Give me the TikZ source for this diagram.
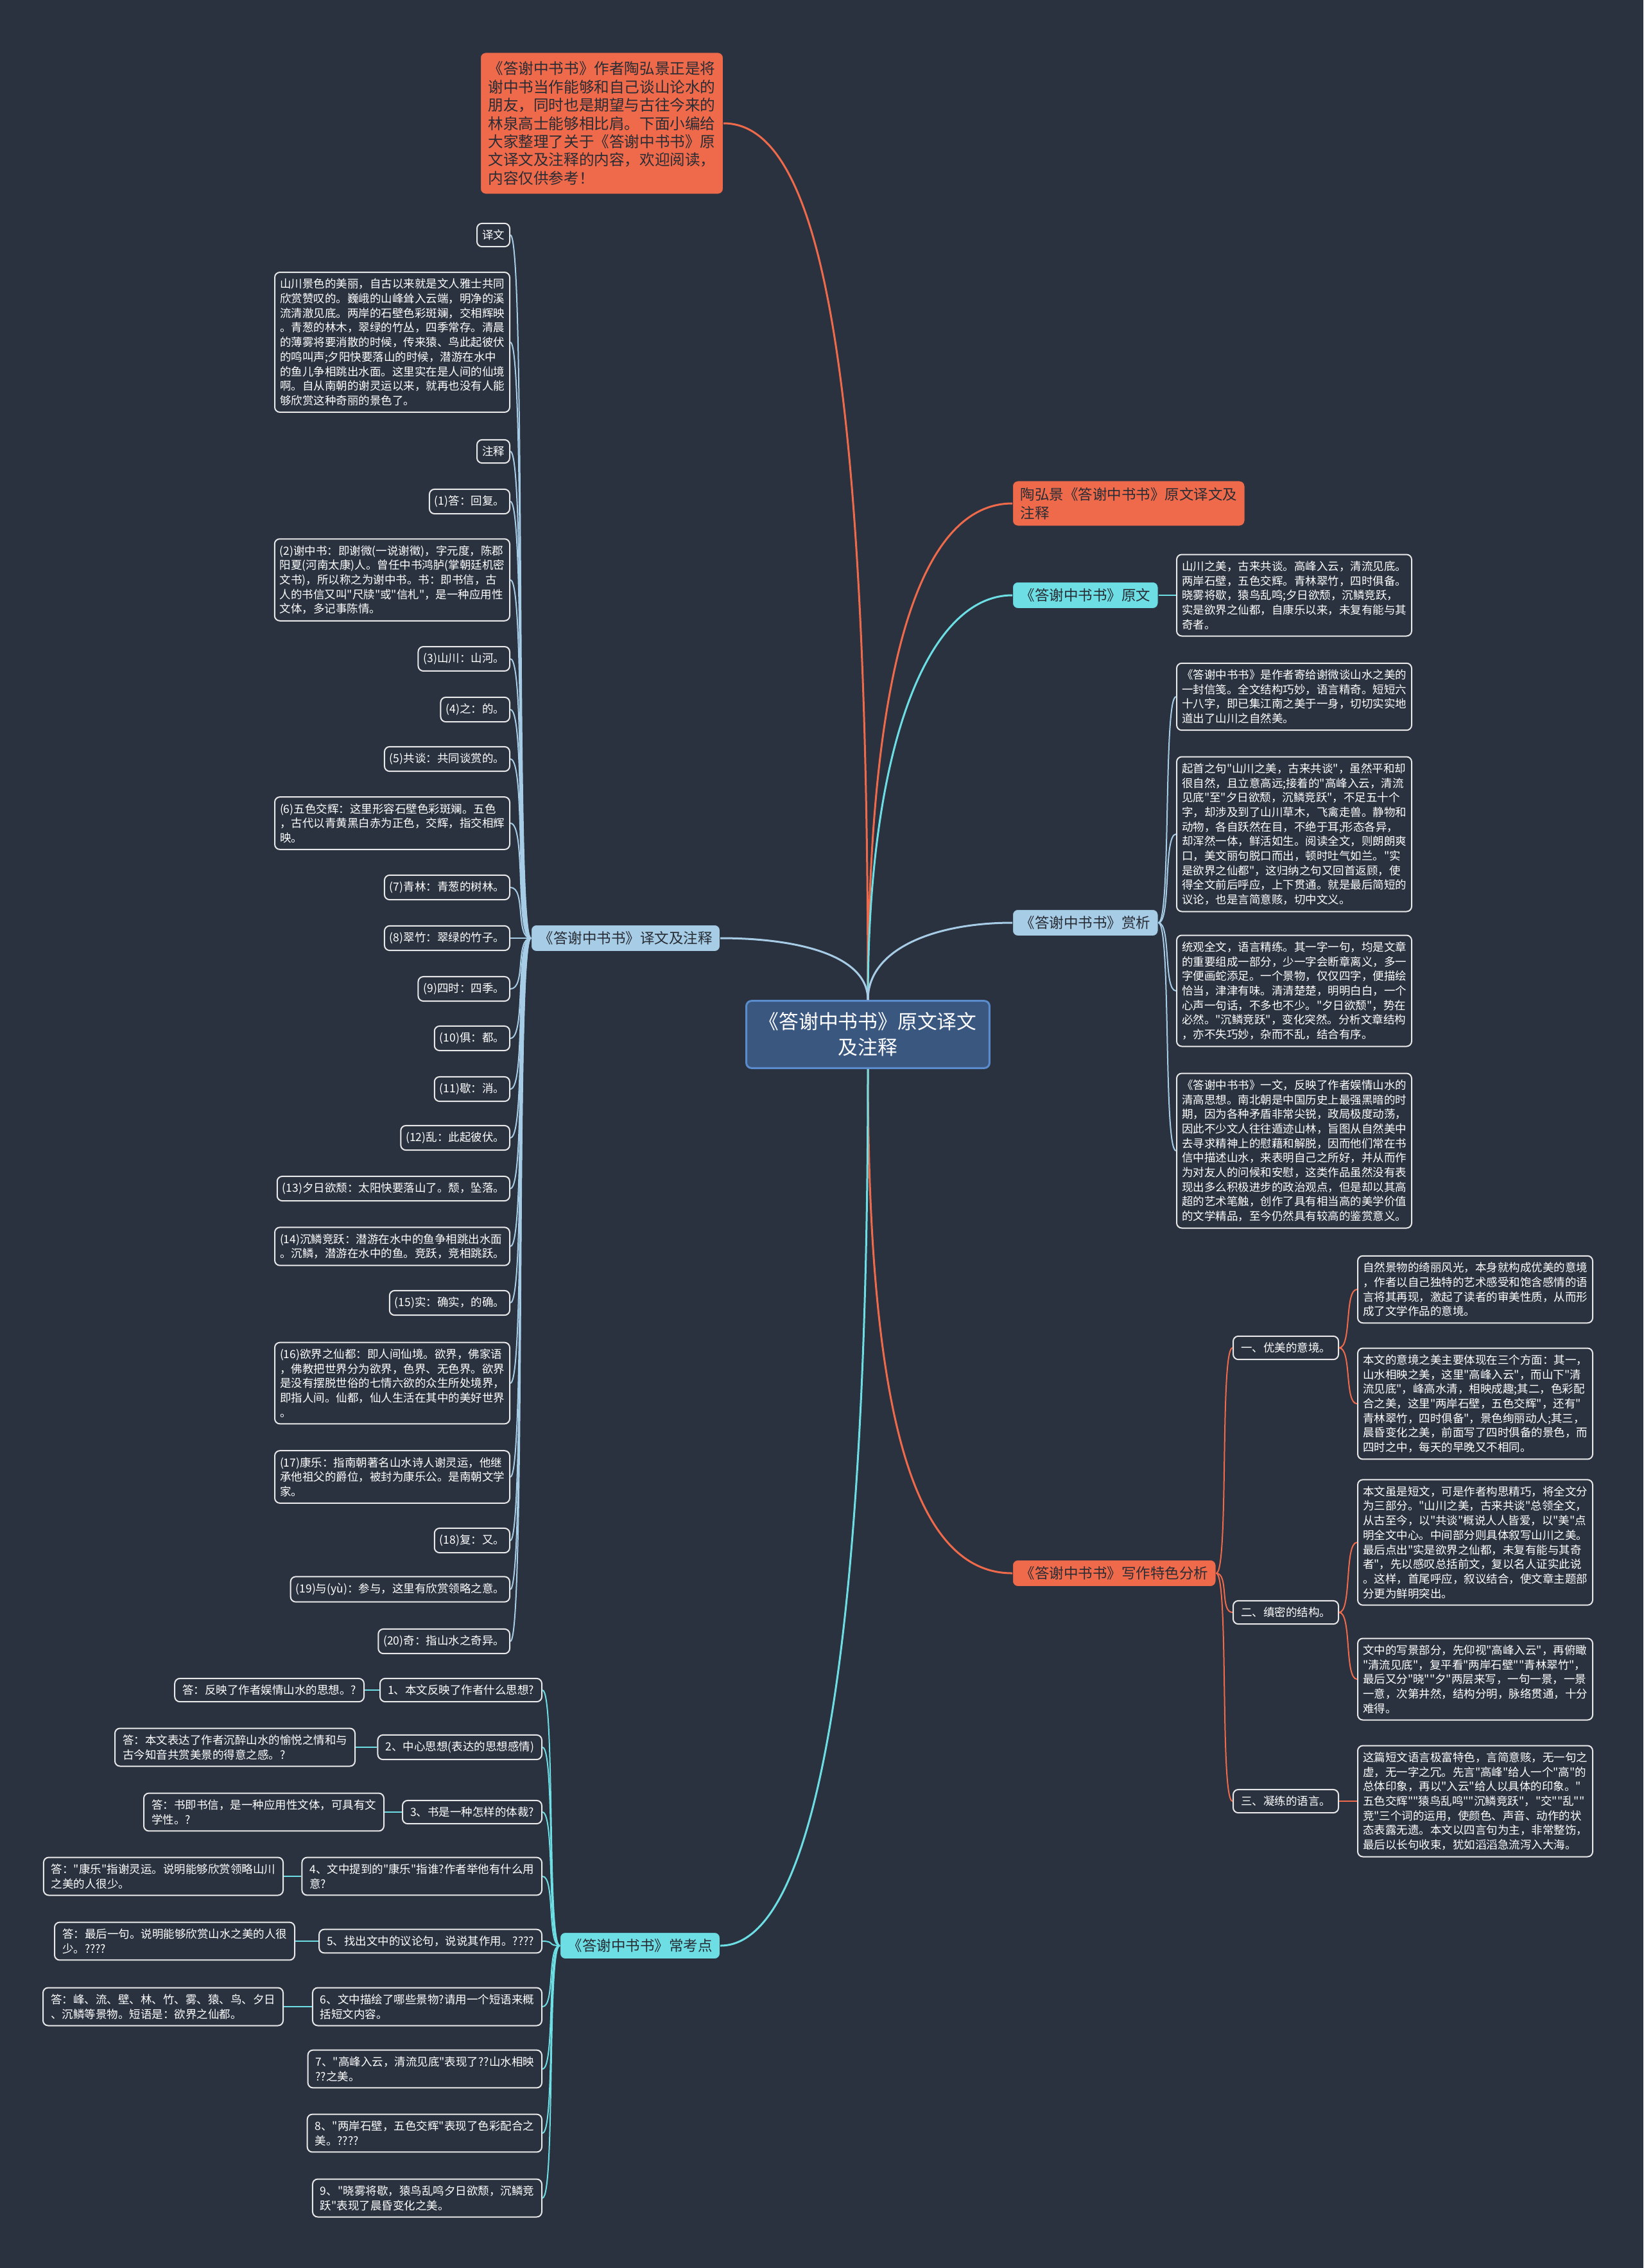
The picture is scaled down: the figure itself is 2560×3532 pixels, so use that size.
\documentclass[tikz,border=0pt]{standalone}
\usepackage{fontspec}
\setmainfont{Noto Sans CJK SC}[Ligatures=TeXOff]
\definecolor{bg}{RGB}{42,50,64}
\definecolor{orng}{RGB}{239,106,75}
\definecolor{cyn}{RGB}{108,222,228}
\definecolor{lblu}{RGB}{167,204,230}
\definecolor{cfill}{RGB}{58,87,128}
\definecolor{cbord}{RGB}{90,140,205}
\definecolor{lbord}{RGB}{232,232,232}
\definecolor{dtxt}{RGB}{40,44,52}
\newcommand\fsm{\fontsize{8.75pt}{11.35pt}\selectfont}
\newcommand\fmd{\fontsize{11.25pt}{14.6pt}\selectfont}
\newcommand\fin{\fontsize{11.8pt}{14.2pt}\selectfont}
\newcommand\flg{\fontsize{15.4pt}{20pt}\selectfont}
\begin{document}
\begin{tikzpicture}[x=0.5pt,y=-0.5pt,
  leaf/.style={draw=lbord, line width=1pt, rounded corners=4pt, fill=bg, text=white, font=\fsm, align=left, inner xsep=4pt, inner ysep=5pt},
  subl/.style={leaf, inner xsep=6pt},
  lbl/.style={rounded corners=4pt, font=\fmd, text=dtxt, align=left, inner xsep=6pt, inner ysep=5pt, draw=bg, line width=0.5pt},
  olbl/.style={lbl, fill=orng},
  clbl/.style={lbl, fill=cyn},
  blbl/.style={lbl, fill=lblu},
  oline/.style={draw=orng, line width=1.5pt},
  cline/.style={draw=cyn, line width=1.5pt},
  bline/.style={draw=lblu, line width=1.5pt},
  osub/.style={draw=orng, line width=1pt},
  csub/.style={draw=cyn, line width=1pt},
  bsub/.style={draw=lblu, line width=1pt}]
\fill[bg] (0,0) rectangle (2560,3532);
\useasboundingbox (0,0) rectangle (2560,3532);

% center
\node[fill=cfill, draw=cbord, line width=1.5pt, rounded corners=4pt, text=white, font=\flg, align=center, inner xsep=10pt, inner ysep=9pt] (c) at (1352,1611) {《答谢中书书》原文译文\\及注释};

% intro
\node[olbl, font=\fin, anchor=east, inner xsep=6pt, inner ysep=7pt] (intro) at (1127,192) {《答谢中书书》作者陶弘景正是将\\谢中书当作能够和自己谈山论水的\\朋友，同时也是期望与古往今来的\\林泉高士能够相比肩。下面小编给\\大家整理了关于《答谢中书书》原\\文译文及注释的内容，欢迎阅读，\\内容仅供参考！};

% right branches
\node[olbl, anchor=west] (tao) at (1577,784) {陶弘景《答谢中书书》原文译文及\\注释};
\node[clbl, anchor=west] (yw) at (1577,927) {《答谢中书书》原文};
\node[blbl, anchor=west] (sx) at (1577,1437) {《答谢中书书》赏析};
\node[olbl, anchor=west] (xz) at (1577,2450) {《答谢中书书》写作特色分析};
\node[blbl, anchor=east] (yz) at (1122,1461) {《答谢中书书》译文及注释};
\node[clbl, anchor=east] (ck) at (1122,3030) {《答谢中书书》常考点};

\draw[oline] (c.north) .. controls +(0,-1000) and +(150,0) .. (intro.east);
\draw[oline] (c.north) .. controls +(0,-500) and +(-150,0) .. (tao.west);
\draw[cline] (c.north) .. controls +(0,-400) and +(-130,0) .. (yw.west);
\draw[bline] (c.north) .. controls +(0,-80) and +(-120,0) .. (sx.west);
\draw[bline] (c.north) .. controls +(0,-70) and +(120,0) .. (yz.east);
\draw[oline] (c.south) .. controls +(0,550) and +(-150,0) .. (xz.west);
\draw[cline] (c.south) .. controls +(0,900) and +(150,0) .. (ck.east);

% 原文
\node[leaf, anchor=west] (ywt) at (1832,927) {山川之美，古来共谈。高峰入云，清流见底。\\两岸石壁，五色交辉。青林翠竹，四时俱备。\\晓雾将歇，猿鸟乱鸣;夕日欲颓，沉鳞竞跃，\\实是欲界之仙都，自康乐以来，未复有能与其\\奇者。};
\draw[csub] (yw.east) -- (ywt.west);

% 赏析
\node[leaf, anchor=west] (sx1) at (1832,1085) {《答谢中书书》是作者寄给谢微谈山水之美的\\一封信笺。全文结构巧妙，语言精奇。短短六\\十八字，即已集江南之美于一身，切切实实地\\道出了山川之自然美。};
\node[leaf, anchor=west] (sx2) at (1832,1299) {起首之句"山川之美，古来共谈"，虽然平和却\\很自然，且立意高远;接着的"高峰入云，清流\\见底"至"夕日欲颓，沉鳞竞跃"，不足五十个\\字，却涉及到了山川草木，飞禽走兽。静物和\\动物，各自跃然在目，不绝于耳;形态各异，\\却浑然一体，鲜活如生。阅读全文，则朗朗爽\\口，美文丽句脱口而出，顿时吐气如兰。"实\\是欲界之仙都"，这归纳之句又回首返顾，使\\得全文前后呼应，上下贯通。就是最后简短的\\议论，也是言简意赅，切中文义。};
\node[leaf, anchor=west] (sx3) at (1832,1543) {统观全文，语言精练。其一字一句，均是文章\\的重要组成一部分，少一字会断章离义，多一\\字便画蛇添足。一个景物，仅仅四字，便描绘\\恰当，津津有味。清清楚楚，明明白白，一个\\心声一句话，不多也不少。"夕日欲颓"，势在\\必然。"沉鳞竞跃"，变化突然。分析文章结构\\，亦不失巧妙，杂而不乱，结合有序。};
\node[leaf, anchor=west] (sx4) at (1832,1792) {《答谢中书书》一文，反映了作者娱情山水的\\清高思想。南北朝是中国历史上最强黑暗的时\\期，因为各种矛盾非常尖锐，政局极度动荡，\\因此不少文人往往遁迹山林，旨图从自然美中\\去寻求精神上的慰藉和解脱，因而他们常在书\\信中描述山水，来表明自己之所好，并从而作\\为对友人的问候和安慰，这类作品虽然没有表\\现出多么积极进步的政治观点，但是却以其高\\超的艺术笔触，创作了具有相当高的美学价值\\的文学精品，至今仍然具有较高的鉴赏意义。};
\foreach \n in {sx1,sx2,sx3,sx4}
  \draw[bsub] (sx.east) .. controls +(20,0) and +(-20,0) .. (\n.west);

% 写作特色
\node[subl, anchor=west] (s1) at (1920,2099) {一、优美的意境。};
\node[subl, anchor=west] (s2) at (1920,2511) {二、缜密的结构。};
\node[subl, anchor=west] (s3) at (1920,2805) {三、凝练的语言。};
\foreach \n in {s1,s2,s3}
  \draw[osub] (xz.east) .. controls +(20,0) and +(-20,0) .. (\n.west);
\node[leaf, anchor=west] (t1) at (2114,2008) {自然景物的绮丽风光，本身就构成优美的意境\\，作者以自己独特的艺术感受和饱含感情的语\\言将其再现，激起了读者的审美性质，从而形\\成了文学作品的意境。};
\node[leaf, anchor=west] (t2) at (2114,2186) {本文的意境之美主要体现在三个方面：其一，\\山水相映之美，这里"高峰入云"，而山下"清\\流见底"，峰高水清，相映成趣;其二，色彩配\\合之美，这里"两岸石壁，五色交辉"，还有"\\青林翠竹，四时俱备"，景色绚丽动人;其三，\\晨昏变化之美，前面写了四时俱备的景色，而\\四时之中，每天的早晚又不相同。};
\node[leaf, anchor=west] (t3) at (2114,2402) {本文虽是短文，可是作者构思精巧，将全文分\\为三部分。"山川之美，古来共谈"总领全文，\\从古至今，以"共谈"概说人人皆爱，以"美"点\\明全文中心。中间部分则具体叙写山川之美。\\最后点出"实是欲界之仙都，未复有能与其奇\\者"，先以感叹总括前文，复以名人证实此说\\。这样，首尾呼应，叙议结合，使文章主题部\\分更为鲜明突出。};
\node[leaf, anchor=west] (t4) at (2114,2615) {文中的写景部分，先仰视"高峰入云"，再俯瞰\\"清流见底"，复平看"两岸石壁""青林翠竹"，\\最后又分"晓""夕"两层来写，一句一景，一景\\一意，次第井然，结构分明，脉络贯通，十分\\难得。};
\node[leaf, anchor=west] (t5) at (2114,2805) {这篇短文语言极富特色，言简意赅，无一句之\\虚，无一字之冗。先言"高峰"给人一个"高"的\\总体印象，再以"入云"给人以具体的印象。"\\五色交辉""猿鸟乱鸣""沉鳞竞跃"，"交""乱""\\竞"三个词的运用，使颜色、声音、动作的状\\态表露无遗。本文以四言句为主，非常整饬，\\最后以长句收束，犹如滔滔急流泻入大海。};
\draw[osub] (s1.east) .. controls +(20,0) and +(-20,0) .. (t1.west);
\draw[osub] (s1.east) .. controls +(20,0) and +(-20,0) .. (t2.west);
\draw[osub] (s2.east) .. controls +(20,0) and +(-20,0) .. (t3.west);
\draw[osub] (s2.east) .. controls +(20,0) and +(-20,0) .. (t4.west);
\draw[osub] (s3.east) -- (t5.west);

% 译文及注释
\node[leaf, anchor=east] (l0) at (795,366) {译文};
\node[leaf, anchor=east] (l1) at (795,533) {山川景色的美丽，自古以来就是文人雅士共同\\欣赏赞叹的。巍峨的山峰耸入云端，明净的溪\\流清澈见底。两岸的石壁色彩斑斓，交相辉映\\。青葱的林木，翠绿的竹丛，四季常存。清晨\\的薄雾将要消散的时候，传来猿、鸟此起彼伏\\的鸣叫声;夕阳快要落山的时候，潜游在水中\\的鱼儿争相跳出水面。这里实在是人间的仙境\\啊。自从南朝的谢灵运以来，就再也没有人能\\够欣赏这种奇丽的景色了。};
\node[leaf, anchor=east] (l2) at (795,703) {注释};
\node[leaf, anchor=east] (n1) at (795,781) {(1)答：回复。};
\node[leaf, anchor=east] (n2) at (795,903) {(2)谢中书：即谢微(一说谢徵)，字元度，陈郡\\阳夏(河南太康)人。曾任中书鸿胪(掌朝廷机密\\文书)，所以称之为谢中书。书：即书信，古\\人的书信又叫"尺牍"或"信札"，是一种应用性\\文体，多记事陈情。};
\node[leaf, anchor=east] (n3) at (795,1026) {(3)山川：山河。};
\node[leaf, anchor=east] (n4) at (795,1105) {(4)之：的。};
\node[leaf, anchor=east] (n5) at (795,1182) {(5)共谈：共同谈赏的。};
\node[leaf, anchor=east] (n6) at (795,1282) {(6)五色交辉：这里形容石壁色彩斑斓。五色\\，古代以青黄黑白赤为正色，交辉，指交相辉\\映。};
\node[leaf, anchor=east] (n7) at (795,1382) {(7)青林：青葱的树林。};
\node[leaf, anchor=east] (n8) at (795,1461) {(8)翠竹：翠绿的竹子。};
\node[leaf, anchor=east] (n9) at (795,1540) {(9)四时：四季。};
\node[leaf, anchor=east] (n10) at (795,1617) {(10)俱：都。};
\node[leaf, anchor=east] (n11) at (795,1696) {(11)歇：消。};
\node[leaf, anchor=east] (n12) at (795,1772) {(12)乱：此起彼伏。};
\node[leaf, anchor=east] (n13) at (795,1851) {(13)夕日欲颓：太阳快要落山了。颓，坠落。};
\node[leaf, anchor=east] (n14) at (795,1941) {(14)沉鳞竞跃：潜游在水中的鱼争相跳出水面\\。沉鳞，潜游在水中的鱼。竞跃，竞相跳跃。};
\node[leaf, anchor=east] (n15) at (795,2029) {(15)实：确实，的确。};
\node[leaf, anchor=east] (n16) at (795,2154) {(16)欲界之仙都：即人间仙境。欲界，佛家语\\，佛教把世界分为欲界，色界、无色界。欲界\\是没有摆脱世俗的七情六欲的众生所处境界，\\即指人间。仙都，仙人生活在其中的美好世界\\。};
\node[leaf, anchor=east] (n17) at (795,2300) {(17)康乐：指南朝著名山水诗人谢灵运，他继\\承他祖父的爵位，被封为康乐公。是南朝文学\\家。};
\node[leaf, anchor=east] (n18) at (795,2399) {(18)复：又。};
\node[leaf, anchor=east] (n19) at (795,2475) {(19)与(yù)：参与，这里有欣赏领略之意。};
\node[leaf, anchor=east] (n20) at (795,2556) {(20)奇：指山水之奇异。};
\foreach \n in {l0,l1,l2,n1,n2,n3,n4,n5,n6,n7,n8,n9,n10,n11,n12,n13,n14,n15,n16,n17,n18,n19,n20}
  \draw[bsub] (yz.west) .. controls +(-25,0) and +(25,0) .. (\n.east);

% 常考点
\node[leaf, anchor=east, inner xsep=6pt] (q1) at (845,2632) {1、本文反映了作者什么思想?};
\node[leaf, anchor=east, inner xsep=6pt] (q2) at (845,2721) {2、中心思想(表达的思想感情)};
\node[leaf, anchor=east, inner xsep=6pt] (q3) at (845,2822) {3、书是一种怎样的体裁?};
\node[leaf, anchor=east, inner xsep=6pt] (q4) at (845,2922) {4、文中提到的"康乐"指谁?作者举他有什么用\\意?};
\node[leaf, anchor=east, inner xsep=6pt] (q5) at (845,3023) {5、找出文中的议论句，说说其作用。????};
\node[leaf, anchor=east, inner xsep=6pt] (q6) at (845,3125) {6、文中描绘了哪些景物?请用一个短语来概\\括短文内容。};
\node[leaf, anchor=east, inner xsep=6pt] (q7) at (845,3222) {7、"高峰入云，清流见底"表现了??山水相映\\??之美。};
\node[leaf, anchor=east, inner xsep=6pt] (q8) at (845,3322) {8、"两岸石壁，五色交辉"表现了色彩配合之\\美。????};
\node[leaf, anchor=east, inner xsep=6pt] (q9) at (845,3423) {9、"晓雾将歇，猿鸟乱鸣夕日欲颓，沉鳞竞\\跃"表现了晨昏变化之美。};
\foreach \n in {q1,q2,q3,q4,q5,q6,q7,q8,q9}
  \draw[csub] (ck.west) .. controls +(-20,0) and +(20,0) .. (\n.east);

\node[leaf, anchor=east, inner xsep=6pt] (a1) at (568,2632) {答：反映了作者娱情山水的思想。?};
\node[leaf, anchor=east, inner xsep=6pt] (a2) at (554,2721) {答：本文表达了作者沉醉山水的愉悦之情和与\\古今知音共赏美景的得意之感。?};
\node[leaf, anchor=east, inner xsep=6pt] (a3) at (599,2822) {答：书即书信，是一种应用性文体，可具有文\\学性。?};
\node[leaf, anchor=east, inner xsep=6pt] (a4) at (442,2922) {答："康乐"指谢灵运。说明能够欣赏领略山川\\之美的人很少。};
\node[leaf, anchor=east, inner xsep=6pt] (a5) at (460,3023) {答：最后一句。说明能够欣赏山水之美的人很\\少。????};
\node[leaf, anchor=east, inner xsep=6pt] (a6) at (442,3125) {答：峰、流、壁、林、竹、雾、猿、鸟、夕日\\、沉鳞等景物。短语是：欲界之仙都。};
\foreach \i in {1,...,6}
  \draw[csub] (q\i.west) -- (a\i.east);
\end{tikzpicture}
\end{document}
